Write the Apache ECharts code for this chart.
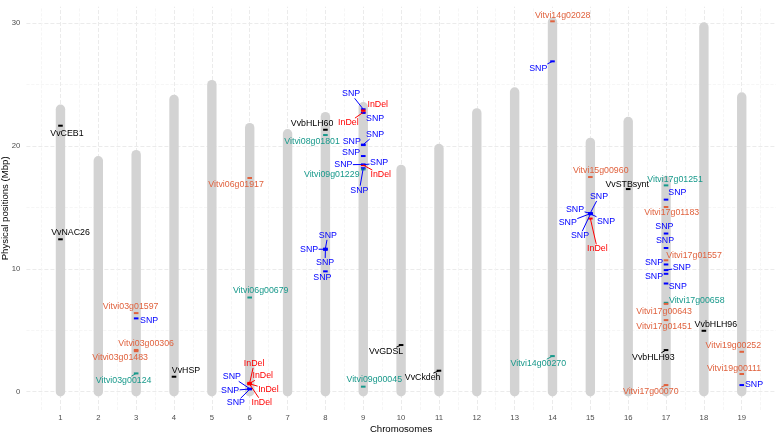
<!DOCTYPE html>
<html>
<head>
<meta charset="utf-8">
<script src="https://cdn.jsdelivr.net/npm/echarts@6/dist/echarts.min.js"></script>
<style>
html, body { margin: 0; padding: 0; background: #fff; }
#chart { width: 778px; height: 432px; }
</style>
</head>
<body>
<div id="chart"></div>
<script>
// chromosomes and their lengths (Mbp)
var chromosomes = [1, 2, 3, 4, 5, 6, 7, 8, 9, 10, 11, 12, 13, 14, 15, 16, 17, 18, 19];
var chromLength = [23.0, 18.8, 19.3, 23.8, 25.0, 21.5, 21.0, 22.4, 23.2, 18.1, 19.8, 22.7, 24.4, 30.1, 20.3, 22.0, 17.2, 29.7, 24.0];

// markers: chromosome, position (Mbp), name, type
var markerChrom = [1, 1, 3, 3, 3, 3, 3, 4, 6, 6,
	6, 6, 6, 6, 6, 6, 6,
	8, 8, 8, 8, 8, 8,
	9, 9, 9, 9, 9, 9, 9, 9, 9, 9, 9, 9, 9,
	10, 11, 14, 14, 14,
	15, 15, 15, 15, 15, 15, 15, 16,
	17, 17, 17, 17, 17, 17, 17, 17, 17, 17, 17, 17, 17, 17, 17,
	18, 19, 19, 19];
var markerPos = [21.66, 12.41, 6.40, 5.97, 3.40, 3.30, 1.49, 1.22, 17.40, 7.67,
	0.72, 0.68, 0.64, 0.60, 0.25, 0.22, 0.19,
	21.33, 20.90, 11.65, 11.60, 11.55, 9.80,
	23.00, 22.90, 22.75, 22.70, 20.12, 20.08, 19.19, 18.50, 18.48, 18.45, 18.20, 18.10, 0.41,
	3.80, 1.71, 30.16, 26.90, 2.90,
	17.48, 14.55, 14.52, 14.50, 14.48, 14.45, 14.10, 16.50,
	16.80, 15.64, 15.04, 12.88, 11.70, 10.70, 10.36, 9.90, 9.60, 8.81, 7.24, 7.15, 5.83, 3.39, 0.54,
	4.96, 3.25, 1.44, 0.54];
var markerName = ['VvCEB1', 'VvNAC26', 'Vitvi03g01597', 'SNP', 'Vitvi03g00306', 'Vitvi03g01483', 'Vitvi03g00124', 'VvHSP', 'Vitvi06g01917', 'Vitvi06g00679',
	'InDel', 'InDel', 'InDel', 'InDel', 'SNP', 'SNP', 'SNP',
	'VvbHLH60', 'Vitvi08g01801', 'SNP', 'SNP', 'SNP', 'SNP',
	'SNP', 'InDel', 'InDel', 'SNP', 'SNP', 'SNP', 'SNP', 'SNP', 'SNP', 'InDel', 'SNP', 'Vitvi09g01229', 'Vitvi09g00045',
	'VvGDSL', 'VvCkdeh', 'Vitvi14g02028', 'SNP', 'Vitvi14g00270',
	'Vitvi15g00960', 'SNP', 'SNP', 'SNP', 'SNP', 'SNP', 'InDel', 'VvSTBsynt',
	'Vitvi17g01251', 'SNP', 'Vitvi17g01183', 'SNP', 'SNP', 'Vitvi17g01557', 'SNP', 'SNP', 'SNP', 'SNP', 'Vitvi17g00658', 'Vitvi17g00643', 'Vitvi17g01451', 'VvbHLH93', 'Vitvi17g00070',
	'VvbHLH96', 'Vitvi19g00252', 'Vitvi19g00111', 'SNP'];
var markerType = ['gene', 'gene', 'up', 'SNP', 'up', 'up', 'down', 'gene', 'up', 'down',
	'InDel', 'InDel', 'InDel', 'InDel', 'SNP', 'SNP', 'SNP',
	'gene', 'down', 'SNP', 'SNP', 'SNP', 'SNP',
	'SNP', 'InDel', 'InDel', 'SNP', 'SNP', 'SNP', 'SNP', 'SNP', 'SNP', 'InDel', 'SNP', 'down', 'down',
	'gene', 'gene', 'up', 'SNP', 'down',
	'up', 'SNP', 'SNP', 'SNP', 'SNP', 'SNP', 'InDel', 'gene',
	'down', 'SNP', 'up', 'SNP', 'SNP', 'up', 'SNP', 'SNP', 'SNP', 'SNP', 'down', 'up', 'up', 'gene', 'up',
	'gene', 'up', 'up', 'SNP'];

// label placement, pixels from the marker (repelled labels)
var labelDx = [6.5, 10, -5.5, 13, 10, -16, -12.5, 12, -13.6, 11,
	4.4, 13.1, 18.7, 12.1, -17.9, -19.6, -13.9,
	-13.3, -13.3, 2.4, -16.3, -0.3, -3,
	-12.2, 14.5, -14.9, 11.8, 11.8, -11.5, -12.2, -19.9, 15.8, 17.5, -3.9, -31.5, 11,
	-15, -16.3, 10.2, -14.2, -14.2,
	10.4, 8.7, -15.3, -22.6, 15.7, -10.3, 7, -1,
	9, 11.3, 5.7, -1.7, -1, 28, -12, 15.7, -12, 11.7, 30.7, -2, -2, -12.7, -15.3,
	12, -8.4, -7.7, 12.3];
var labelDy = [8, -6.3, -6.3, 2.4, -6, 6.2, 7.4, -6, 6.6, -6.6,
	-19.5, -7.6, 5.5, 18, -11.9, 1.7, 13.6,
	-6, 6.4, -13.4, 0, 12.7, 6.5,
	-15.5, -6, 10.4, 5.2, -10.2, -3.7, -3.4, 0.2, -1.7, 9.5, 22.1, 4.9, -6.7,
	6.7, 7, -6, 7.2, 7.7,
	-6, -16.7, -4, 8.6, 7.3, 21.6, 30.4, -4.7,
	-6.3, -7, 5.6, -7, -7, -5, -1.6, -2.6, 2.4, 3.4, -2, 7.2, 6.7, 7.3, 6.7,
	-6.7, -6.7, -5.7, 0];

var typeColor = {
	gene: '#000000',
	up: '#E0623E',
	down: '#18998B',
	SNP: '#0000FF',
	InDel: '#FF0000'
};

var FONT = '"Liberation Sans", Arial, sans-serif';
var LABEL_SIZE = 8.8;

var measureCtx = document.createElement('canvas').getContext('2d');
measureCtx.font = LABEL_SIZE + 'px ' + FONT;
function textWidth(s) {
	return measureCtx.measureText(s).width;
}

var chromData = chromosomes.map(function (c, i) { return [c, chromLength[i]]; });
var markerData = markerPos.map(function (p, i) { return [markerChrom[i], p, i]; });

// background grid lines (theme_minimal look)
var gridLines = [];
for (var v = 0; v <= 30; v += 5) {
	gridLines.push({ yAxis: v, lineStyle: { color: v % 10 === 0 ? '#ebebeb' : '#f4f4f4', width: v % 10 === 0 ? 1 : 0.8 } });
}
for (var h = 0.5; h <= 19.5; h += 0.5) {
	gridLines.push({ xAxis: h, lineStyle: { color: h % 1 === 0 ? '#ebebeb' : '#f4f4f4', width: h % 1 === 0 ? 1 : 0.8 } });
}

var myChart = echarts.init(document.getElementById('chart'), null, { renderer: 'canvas' });
var option = {
	animation: false,
	backgroundColor: '#ffffff',
	grid: {
		left: 26.4,
		right: 2.2,
		top: 6.7,
		bottom: 22,
		containLabel: false,
		outerBoundsMode: 'none'
	},
	xAxis: {
		type: 'value',
		min: 0.1,
		max: 19.9,
		name: 'Chromosomes',
		nameLocation: 'middle',
		nameGap: 14,
		nameMoveOverlap: false,
		nameTextStyle: { color: '#000', fontSize: 9.6, fontFamily: FONT, verticalAlign: 'top' },
		axisLine: { show: false },
		axisTick: { show: false },
		splitLine: { show: false },
		axisLabel: {
			customValues: chromosomes,
			color: '#4d4d4d',
			fontSize: 7.7,
			fontFamily: FONT,
			margin: 4
		}
	},
	yAxis: {
		type: 'value',
		min: -1.49,
		max: 31.35,
		name: 'Physical positions (Mbp)',
		nameLocation: 'middle',
		nameGap: 21.4,
		nameMoveOverlap: false,
		nameRotate: 90,
		nameTextStyle: { color: '#000', fontSize: 9.6, fontFamily: FONT, verticalAlign: 'middle' },
		axisLine: { show: false },
		axisTick: { show: false },
		splitLine: { show: false },
		axisLabel: {
			customValues: [0, 10, 20, 30],
			color: '#4d4d4d',
			fontSize: 7.7,
			fontFamily: FONT,
			margin: 6
		}
	},
	series: [{
		type: 'line',
		data: [],
		z: 0,
		silent: true,
		markLine: {
			silent: true,
			symbol: 'none',
			label: { show: false },
			animation: false,
			data: gridLines
		}
	}, {
		// chromosome bodies
		type: 'custom',
		z: 10,
		silent: true,
		data: chromData,
		renderItem: function (params, api) {
			var p0 = api.coord([api.value(0), 0]);
			var p1 = api.coord([api.value(0), api.value(1)]);
			return {
				type: 'line',
				shape: { x1: p0[0], y1: p0[1], x2: p1[0], y2: p1[1] },
				style: { stroke: '#d3d3d3', lineWidth: 9.4, lineCap: 'round' }
			};
		}
	}, {
		// marker ticks
		type: 'custom',
		z: 11,
		silent: true,
		data: markerData,
		renderItem: function (params, api) {
			var p = api.coord([api.value(0), api.value(1)]);
			var idx = api.value(2);
			return {
				type: 'rect',
				shape: { x: p[0] - 2.3, y: p[1] - 1, width: 4.6, height: 2 },
				style: { fill: typeColor[markerType[idx]] }
			};
		}
	}, {
		// labels with leader segments
		type: 'custom',
		z: 12,
		silent: true,
		data: markerData,
		renderItem: function (params, api) {
			var p = api.coord([api.value(0), api.value(1)]);
			var idx = api.value(2);
			var color = typeColor[markerType[idx]];
			var cx = p[0] + labelDx[idx];
			var cy = p[1] + labelDy[idx];
			var hw = textWidth(markerName[idx]) / 2 + 0.5;
			var hh = 4.6;
			var vx = p[0] - cx, vy = p[1] - cy;
			var t = Math.min(vx === 0 ? 1e9 : hw / Math.abs(vx), vy === 0 ? 1e9 : hh / Math.abs(vy));
			var len = Math.sqrt(vx * vx + vy * vy);
			var children = [];
			if (t < 1 && (1 - t) * len > 5) {
				children.push({
					type: 'line',
					shape: { x1: cx + vx * t, y1: cy + vy * t, x2: p[0], y2: p[1] },
					style: { stroke: color, lineWidth: 1 }
				});
			}
			children.push({
				type: 'text',
				style: {
					text: markerName[idx],
					x: cx,
					y: cy,
					align: 'center',
					verticalAlign: 'middle',
					fill: color,
					fontSize: LABEL_SIZE,
					fontFamily: FONT
				}
			});
			return { type: 'group', children: children };
		}
	}]
};
myChart.setOption(option);
</script>
</body>
</html>
